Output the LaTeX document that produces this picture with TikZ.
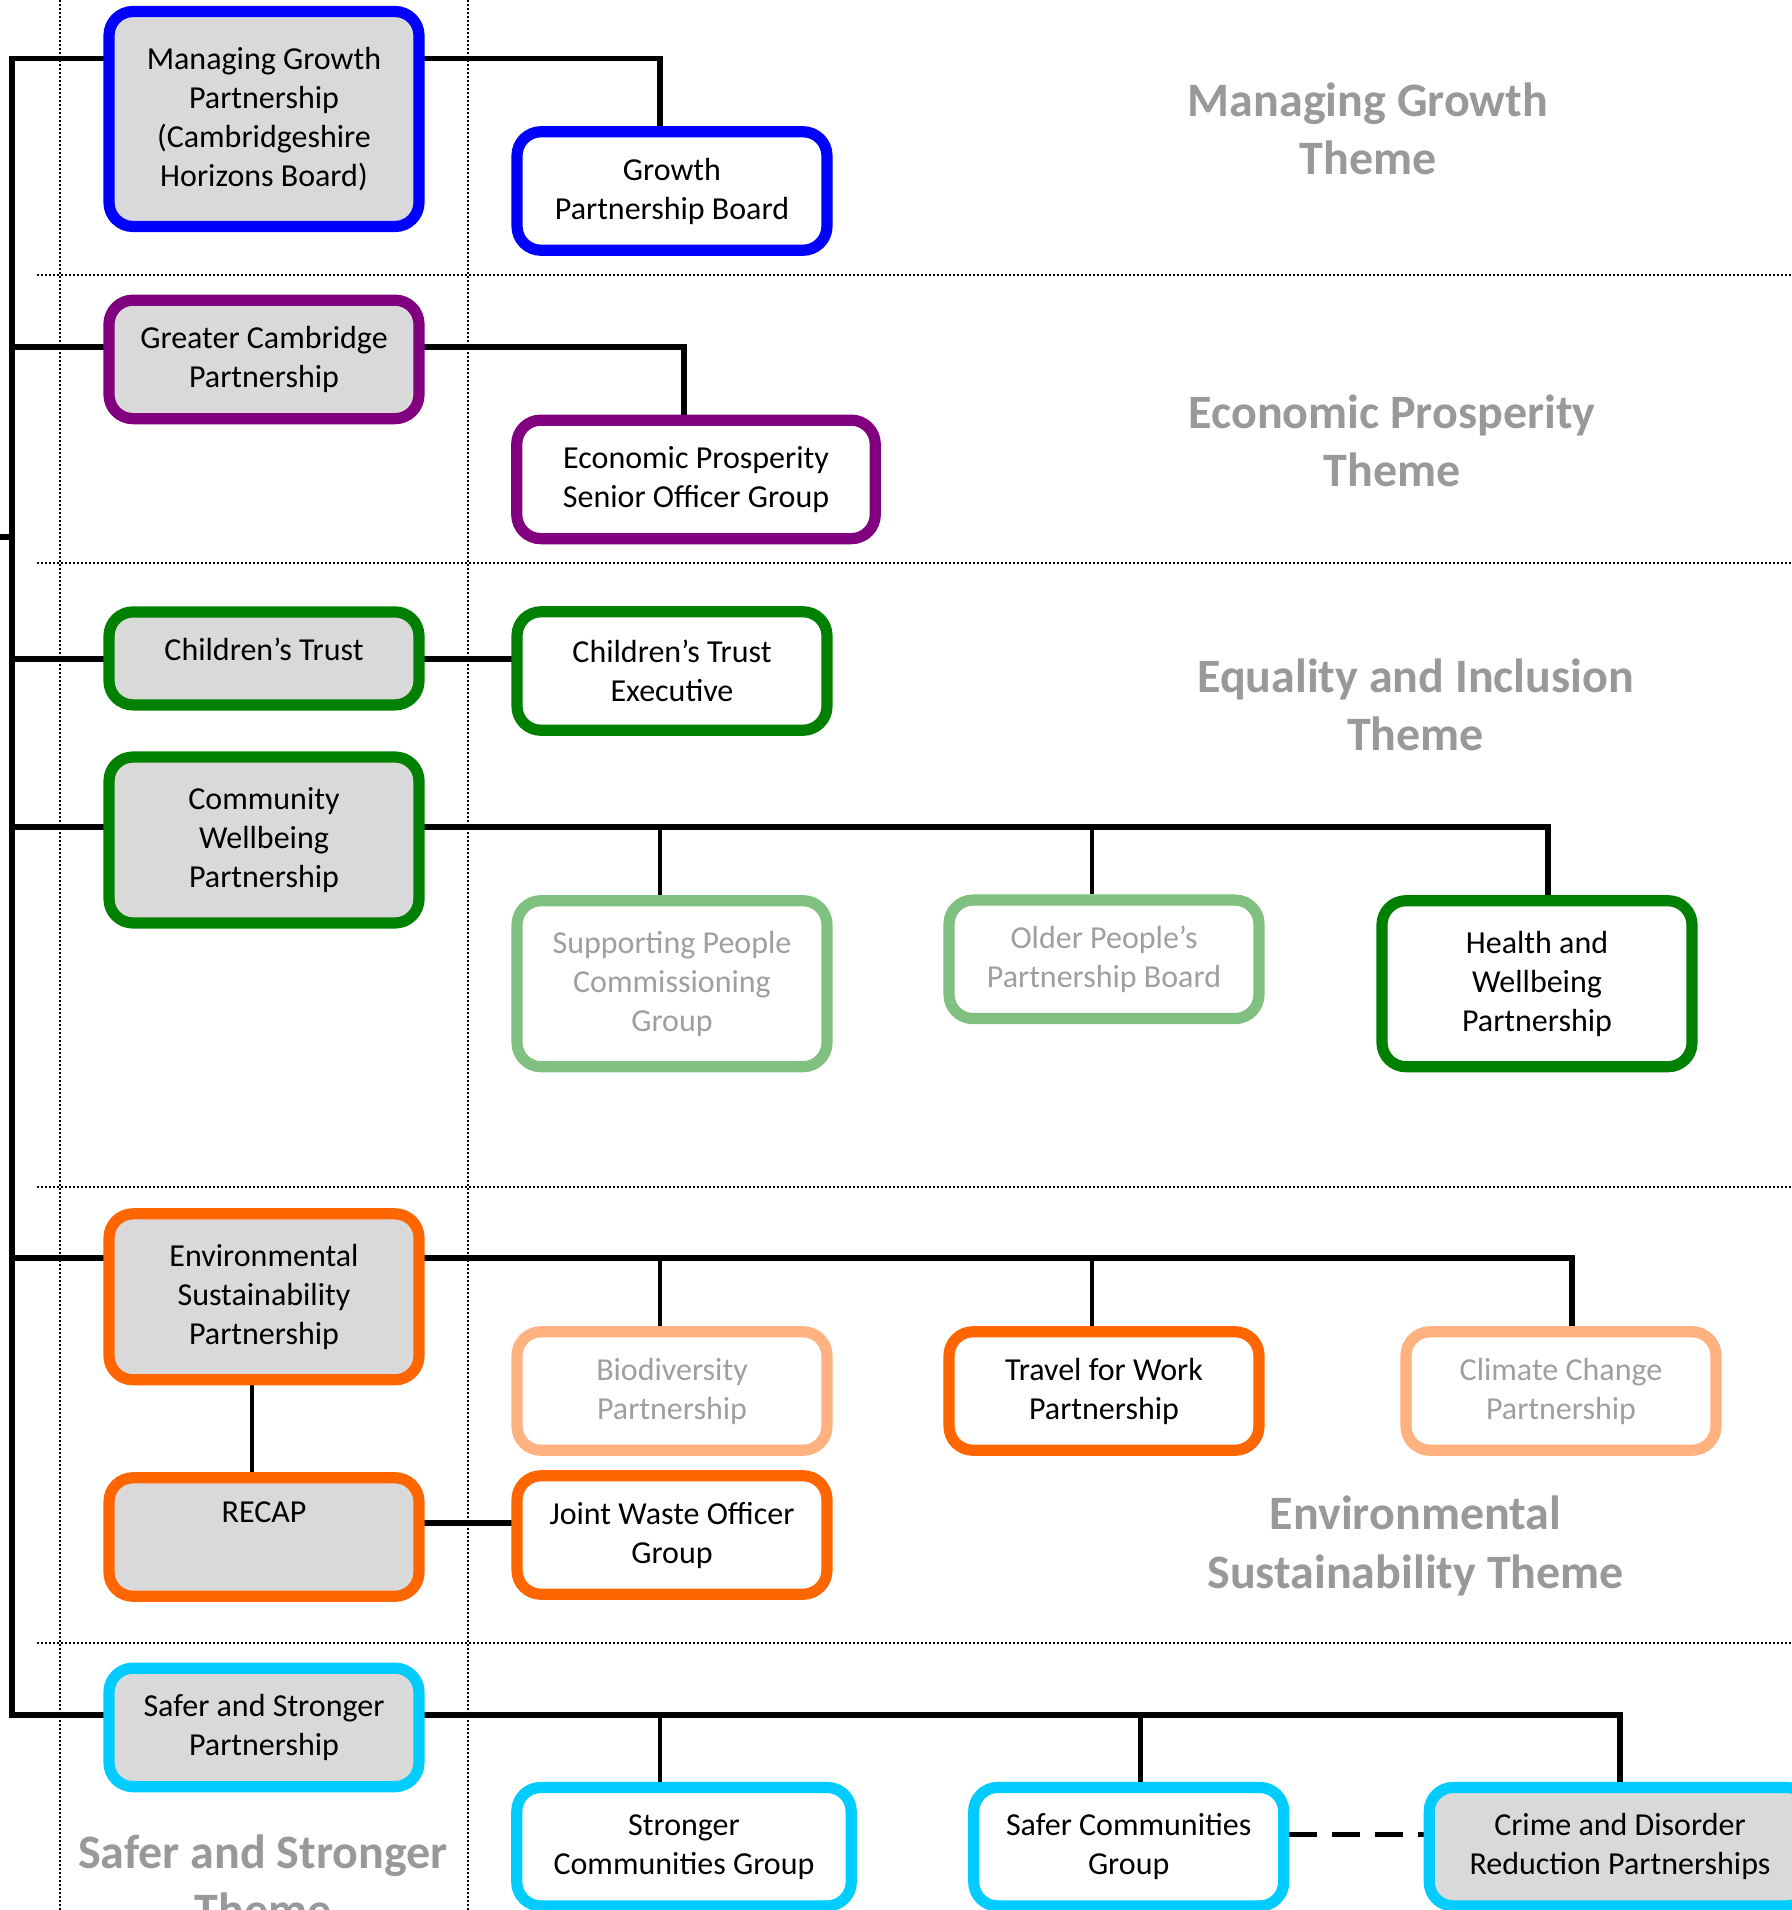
\documentclass[tikz,border=0pt]{standalone}
\usepackage{fontspec}
\setmainfont{Carlito}
\usetikzlibrary{backgrounds}
\definecolor{cblue}{HTML}{0000FF}
\definecolor{cpurple}{HTML}{800080}
\definecolor{cgreen}{HTML}{008000}
\definecolor{lgreen}{HTML}{80C080}
\definecolor{corange}{HTML}{FF6600}
\definecolor{lorange}{HTML}{FFB27F}
\definecolor{ccyan}{HTML}{00CCFF}
\definecolor{boxgray}{HTML}{D9D9D9}
\definecolor{paletext}{HTML}{9F9F9F}
\definecolor{themegray}{HTML}{999999}
\begin{document}
\begin{tikzpicture}[x=0.5pt,y=-0.5pt,
  box/.style={draw, rounded corners=12pt, line width=5.6pt, inner sep=0pt,
    minimum width=155pt, align=center, text=black,
    font=\fontsize{16}{19.5}\selectfont},
  hA/.style={minimum height=59.25pt},
  hM/.style={minimum height=83pt},
  hL/.style={minimum height=107.5pt},
  theme/.style={align=center, text=themegray, inner sep=0pt,
    font=\bfseries\fontsize{24}{29.2}\selectfont},
  conn/.style={line width=2.8pt, line cap=rect},
  drop/.style={line width=2.4pt},
  sepline/.style={line width=1pt, dash pattern=on 1pt off 1pt},
  dashconn/.style={line width=2.6pt, dash pattern=on 14pt off 7.5pt}
]
\useasboundingbox (0,0) rectangle (1792,1910);

% boxes
\node[box, hL, fill=boxgray, draw=cblue] (mgp) at (264,119) {Managing Growth\\Partnership\\(Cambridgeshire\\Horizons Board)};
\node[box, hA, fill=white, draw=cblue] (gpb) at (672,191) {Growth\\Partnership Board};
\node[box, hA, fill=boxgray, draw=cpurple] (gcp) at (264,359.4) {Greater Cambridge\\Partnership};
\node[box, hA, fill=white, draw=cpurple, minimum width=179.25pt] (eps) at (696,479.4) {Economic Prosperity\\Senior Officer Group};
\node[box, minimum height=46.5pt, fill=boxgray, draw=cgreen] (ct) at (264,658.4) {Children’s Trust\\[-16pt]\strut};
\node[box, hA, fill=white, draw=cgreen] (cte) at (672,671) {Children’s Trust\\Executive};
\node[box, hM, fill=boxgray, draw=cgreen] (cwp) at (264,840) {Community\\Wellbeing\\Partnership};
\node[box, hM, fill=white, draw=lgreen, text=paletext] (spcg) at (672,983.7) {Supporting People\\Commissioning\\Group};
\node[box, hA, fill=white, draw=lgreen, text=paletext] (oppb) at (1104,959.3) {Older People’s\\Partnership Board};
\node[box, hM, fill=white, draw=cgreen] (hwp) at (1537,983.7) {Health and\\Wellbeing\\Partnership};
\node[box, hM, fill=boxgray, draw=corange] (esp) at (264,1296.8) {Environmental\\Sustainability\\Partnership};
\node[box, hA, fill=white, draw=lorange, text=paletext] (bp) at (672,1391) {Biodiversity\\Partnership};
\node[box, hA, fill=white, draw=corange] (twp) at (1104,1391) {Travel for Work\\Partnership};
\node[box, hA, fill=white, draw=lorange, text=paletext] (ccp) at (1561,1391) {Climate Change\\Partnership};
\node[box, hA, fill=boxgray, draw=corange] (recap) at (264,1537) {RECAP\\\strut};
\node[box, hA, fill=white, draw=corange] (jwog) at (672,1535) {Joint Waste Officer\\Group};
\node[box, hA, fill=boxgray, draw=ccyan] (ssp) at (264,1727.4) {Safer and Stronger\\Partnership};
\node[box, hA, fill=white, draw=ccyan, minimum width=167.25pt] (scg) at (684,1846.7) {Stronger\\Communities Group};
\node[box, hA, fill=white, draw=ccyan] (safcg) at (1128.7,1846.7) {Safer Communities\\Group};
\node[box, hA, fill=boxgray, draw=ccyan, minimum width=190.75pt] (cdrp) at (1620,1846.7) {Crime and Disorder\\Reduction Partnerships};

% theme titles
\node[theme] (th1) at (1368,129) {Managing Growth\\Theme};
\node[theme] (th2) at (1392,441) {Economic Prosperity\\Theme};
\node[theme] (th3) at (1415.5,705) {Equality and Inclusion\\Theme};
\node[theme] (th4) at (1415.5,1546) {Environmental\\Sustainability Theme};
\node[theme] (th5) at (263,1881) {Safer and Stronger\\Theme};

\begin{scope}[on background layer]
  % separators
  \draw[sepline] (60,0) -- (60,1910);
  \draw[sepline] (468,0) -- (468,1910);
  \foreach \yy in {275,563,1187,1643} \draw[sepline] (37,\yy) -- (1792,\yy);
  % trunk
  \coordinate (t1) at (12,58.5);
  \coordinate (t2) at (12,347);
  \coordinate (t3) at (12,659);
  \coordinate (t4) at (12,827);
  \coordinate (t5) at (12,1258);
  \coordinate (t6) at (12,1715);
  \coordinate (tk) at (0,537);
  \draw[conn] (t1) -- (t6);
  \draw[conn] (tk) -- (tk -| t1);
  % managing growth
  \draw[conn] (t1) -| ([xshift=-6pt]gpb.north);
  % economic prosperity
  \draw[conn] (t2) -| ([xshift=-6pt]eps.north);
  % children
  \draw[conn] (t3) -- (t3 -| cte.west);
  % community wellbeing
  \draw[conn] (t4) -| ([xshift=5.5pt]hwp.north);
  \draw[drop] ([xshift=-6pt]spcg.north) |- (t4);
  \draw[drop] ([xshift=-6pt]oppb.north) |- (t4);
  % environmental
  \draw[conn] (t5) -| ([xshift=5.5pt]ccp.north);
  \draw[drop] ([xshift=-6pt]bp.north) |- (t5);
  \draw[drop] ([xshift=-6pt]twp.north) |- (t5);
  \draw[drop] ([xshift=-6pt]esp.south) -- ([xshift=-6pt]recap.north);
  \draw[conn] ([yshift=7pt]recap.east) -- ([yshift=7pt]recap.east -| jwog.west);
  % safer and stronger
  \draw[conn] (t6) -| (cdrp.north);
  \draw[drop] ([xshift=-12pt]scg.north) |- (t6);
  \draw[drop] ([xshift=6pt]safcg.north) |- (t6);
  \draw[dashconn] ([yshift=6pt]safcg.east) -- ([yshift=6pt]cdrp.west);
\end{scope}
\end{tikzpicture}
\end{document}
